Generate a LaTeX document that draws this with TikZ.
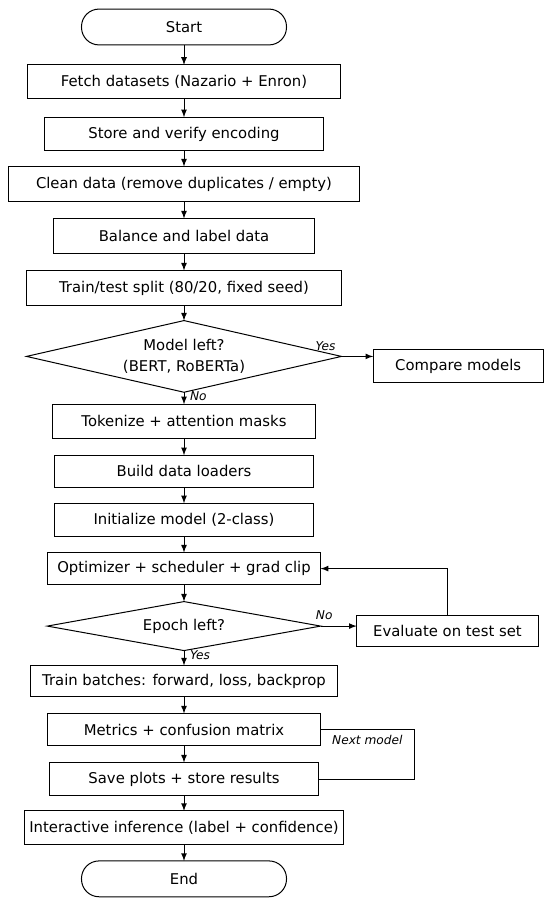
\documentclass[tikz,border=0pt]{standalone}
\usepackage{fontspec}
\setmainfont{DejaVu Sans}
\usepackage{tikz}
\usetikzlibrary{shapes, arrows, positioning}

\begin{document}
\begin{tikzpicture}[
    font=\fontsize{8.9}{12.4}\selectfont,
    node distance=10pt,
    term/.style={rectangle, draw=black, rounded corners=10.5pt, align=center, minimum width=123pt, minimum height=21.5pt, line width=0.6pt, outer sep=0pt},
    box/.style={rectangle, draw=black, align=center, minimum height=20pt, inner xsep=3pt, line width=0.6pt, outer sep=0pt},
    decision/.style={diamond, draw=black, align=center, aspect=4.4, inner sep=0pt, line width=0.6pt, outer sep=0pt},
    line/.style={draw, line width=0.6pt, -latex},
    lbl/.style={font=\itshape\fontsize{7.3}{8}\selectfont}
]

\useasboundingbox (-110.4pt,16.2pt) rectangle (219.6pt,-526.2pt);

% Nodes
\node[term] (start) at (0,0) {Start};
\node[box, below=12pt of start, minimum width=188pt] (fetch) {Fetch datasets (Nazario + Enron)};
\node[box, below=11.4pt of fetch, minimum width=167pt] (store) {Store and verify encoding};
\node[box, below=9.6pt of store, minimum width=211pt, minimum height=21pt] (clean) {Clean data (remove duplicates / empty)};
\node[box, below=10.2pt of clean, minimum width=156pt, minimum height=21pt] (balance) {Balance and label data};
\node[box, below=10.2pt of balance, minimum width=189pt, minimum height=21pt] (split) {Train/test split (80/20, fixed seed)};

\node[decision, below=9pt of split, minimum width=189pt, minimum height=43pt] (modelq) {Model left?\\(BERT, RoBERTa)};
\node[box, right=19pt of modelq, yshift=-5.7pt, minimum width=102pt] (compare) {Compare models};

\node[box, below=7.2pt of modelq, minimum width=158pt, minimum height=20.4pt] (tokenize) {Tokenize + attention masks};
\node[box, below=10.2pt of tokenize, minimum width=155pt, minimum height=19.2pt] (loaders) {Build data loaders};
\node[box, below=9.6pt of loaders, minimum width=155pt] (init) {Initialize model (2-class)};
\node[box, below=9.6pt of init, minimum width=164pt, minimum height=19.2pt] (optim) {Optimizer + scheduler + grad clip};

\node[decision, below=10.2pt of optim, minimum width=164pt, minimum height=29.4pt] (epochq) {Epoch left?};
\node[box, right=21.6pt of epochq, yshift=-3pt, minimum width=109pt, minimum height=18.6pt] (evaluate) {Evaluate on test set};

\node[box, below=9pt of epochq, minimum width=184pt, minimum height=18.6pt] (train) {Train batches: forward, loss, backprop};
\node[box, below=10.2pt of train, minimum width=164pt, minimum height=19.2pt] (metrics) {Metrics + confusion matrix};
\node[box, below=10.2pt of metrics, minimum width=161pt] (save) {Save plots + store results};
\node[box, below=9pt of save, minimum width=188pt, minimum height=20.4pt] (infer) {Interactive inference (label + confidence)};
\node[term, below=9.6pt of infer] (end) {End};

% Connections
\draw[line] (start) -- (fetch);
\draw[line] (fetch) -- (store);
\draw[line] (store) -- (clean);
\draw[line] (clean) -- (balance);
\draw[line] (balance) -- (split);
\draw[line] (split) -- (modelq);
\draw[line] (modelq.east) -- node[lbl, above left, pos=0] {Yes} (modelq.east -| compare.west);
\draw[line] (modelq) -- node[lbl, right, pos=0.3] {No} (tokenize);
\draw[line] (tokenize) -- (loaders);
\draw[line] (loaders) -- (init);
\draw[line] (init) -- (optim);
\draw[line] (optim) -- (epochq);
\draw[line] (epochq.east) -- node[lbl, above, pos=0.1] {No} (epochq.east -| evaluate.west);
\draw[line] (evaluate.north) |- (optim.east);
\draw[line] (epochq) -- node[lbl, right, pos=0.3] {Yes} (train);
\draw[line] (train) -- (metrics);
\draw[line] (metrics) -- (save);
\draw[line width=0.6pt] (metrics.east) -- node[lbl, below] {Next model} ++(56pt,0) |- (save.east);
\draw[line] (save) -- (infer);
\draw[line] (infer) -- (end);

\end{tikzpicture}
\end{document}
